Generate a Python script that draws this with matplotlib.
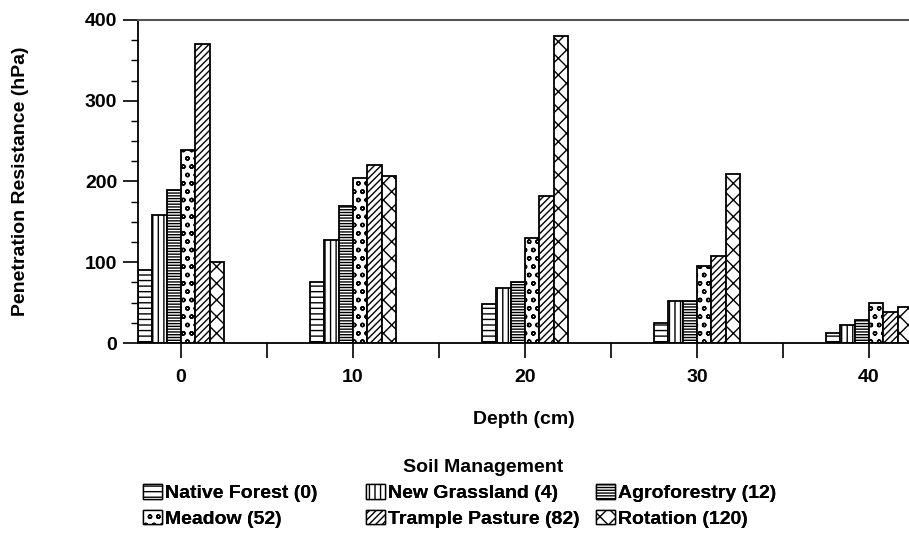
import numpy as np
import matplotlib.pyplot as plt
from matplotlib.patches import Patch

plt.rcParams['font.family'] = ['Liberation Sans', 'DejaVu Sans']
plt.rcParams['font.weight'] = 'bold'
plt.rcParams['hatch.linewidth'] = 1.0

depths = [0, 10, 20, 30, 40]
depth_ticks = [0, 5, 10, 15, 20, 25, 30, 35, 40]
depth_labels = ['0', '', '10', '', '20', '', '30', '', '40']

series_names = ['Native Forest (0)', 'New Grassland (4)', 'Agroforestry (12)',
                'Meadow (52)', 'Trample Pasture (82)', 'Rotation (120)']
native_forest = [91, 75, 48, 25, 13]
new_grassland = [159, 127, 68, 52, 22]
agroforestry = [190, 170, 75, 52, 28]
meadow = [239, 204, 130, 95, 50]
trample_pasture = [370, 220, 182, 108, 38]
rotation = [100, 207, 380, 209, 45]
hatches = ['---', '|||', '------', 'oo', '/////', 'xx']

all_series = [native_forest, new_grassland, agroforestry, meadow, trample_pasture, rotation]

fs = 14

fig = plt.figure(figsize=(9.09, 5.49), dpi=100)
ax = fig.add_axes([0.1518, 0.3752, 0.8482, 0.5884])

bar_w = 10 / 12
x = np.array(depths, dtype=float)
handles = []
for i, (vals, h, name) in enumerate(zip(all_series, hatches, series_names)):
    offs = (i - 2.5) * bar_w
    ax.bar(x + offs, vals, width=bar_w, facecolor='white', edgecolor='black',
           hatch=h, linewidth=1.3)
    handles.append(Patch(facecolor='white', edgecolor='black', hatch=h,
                         linewidth=1.0, label=name))

ax.set_xlim(-2.5, 42.33)
ax.set_ylim(0, 400)
ax.set_xticks(depth_ticks)
ax.set_xticklabels(depth_labels, fontsize=fs, fontweight='bold')
ax.set_yticks([0, 100, 200, 300, 400])
ax.set_yticklabels(['0', '100', '200', '300', '400'], fontsize=fs, fontweight='bold')
ax.set_yticks(np.arange(0, 401, 25), minor=True)
ax.tick_params(axis='x', direction='out', length=11, width=1.2, pad=8)
ax.tick_params(axis='y', which='major', direction='out', length=11, width=1.2, pad=4)
ax.tick_params(axis='y', which='minor', direction='out', length=5, width=1.0)

ax.spines['right'].set_visible(False)
ax.spines['top'].set_color('#555555')
ax.spines['top'].set_linewidth(1.5)
ax.spines['left'].set_linewidth(1.3)
ax.spines['bottom'].set_linewidth(1.3)

ax.set_xlabel('Depth (cm)', fontsize=fs, fontweight='bold', labelpad=18)
ax.set_ylabel('Penetration Resistance (hPa)', fontsize=fs, fontweight='bold', labelpad=40)

# legend: title + three fixed-width columns (row 1: items 0-2, row 2: items 3-5)
fig.text(0.532, 1 - 467 / 549, 'Soil Management', ha='center', va='center',
         fontsize=fs, fontweight='bold')
col_x = [143 / 909, 366 / 909, 596 / 909]
for c in range(3):
    pair = [c, c + 3]
    leg = fig.legend([handles[k] for k in pair], [series_names[k] for k in pair],
                     loc='upper left', bbox_to_anchor=(col_x[c], 1 - 484 / 549),
                     ncol=1, frameon=False, prop={'size': fs, 'weight': 'bold'},
                     handlelength=1.0, handleheight=0.8, handletextpad=0.15,
                     labelspacing=0.38, borderpad=0, borderaxespad=0)
    fig.add_artist(leg)

fig.savefig('out.png', dpi=100)
